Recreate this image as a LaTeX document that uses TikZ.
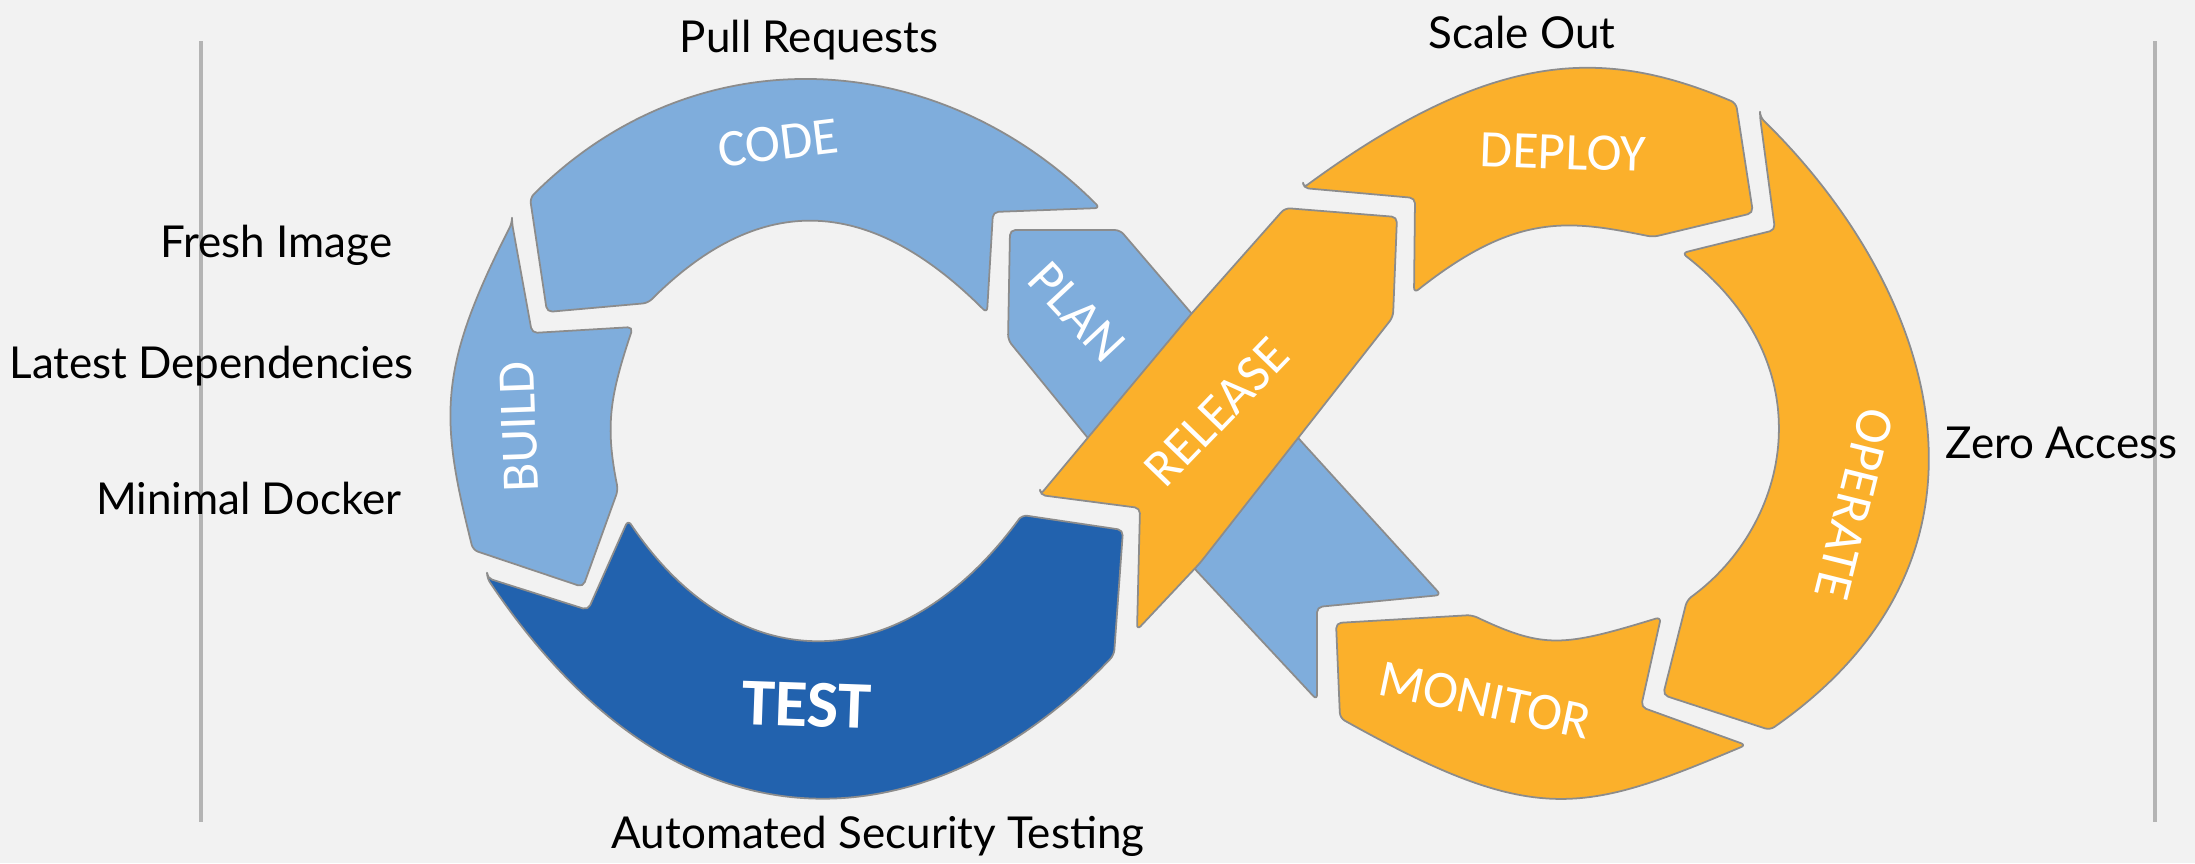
\documentclass[tikz,border=0pt]{standalone}
\usepackage{fontspec}
\setmainfont{Lato}
\newfontfamily\stagefont{Carlito}
\usepackage{tikz}
\definecolor{paper}{HTML}{F2F2F2}
\definecolor{lightblue}{HTML}{7FADDC}
\definecolor{darkblue}{HTML}{2262AE}
\definecolor{amber}{HTML}{FBB02B}
\definecolor{rim}{HTML}{8C8C8C}
\definecolor{rulegray}{HTML}{B4B4B4}
\tikzset{
  stage/.style={draw=rim, line width=0.5pt, line join=round, rounded corners=1.5pt},
  stagetext/.style={text=white, font=\stagefont\fontsize{15}{15}\selectfont, inner sep=0pt},
  sidetext/.style={font=\fontsize{12.5}{14}\selectfont, inner sep=0pt},
}

\begin{document}
\begin{tikzpicture}[x=0.01cm, y=-0.01cm]
\fill[paper] (0,0) rectangle (2195,863);
\useasboundingbox (0,0) rectangle (2195,863);

% side rules
\draw[rulegray, line width=1.2pt] (201,41) -- (201,822);
\draw[rulegray, line width=1.2pt] (2155,41) -- (2155,822);

% left loop
\path[stage, fill=lightblue] (547,312) -- (530,198)
  .. controls (694,34) and (936,44) .. (1100,208)
  -- (993,212) -- (987,313)
  .. controls (872,198) and (763,188) .. (648,303)
  -- cycle; % code
\path[stage, fill=lightblue] (512,223) -- (532,333) -- (633,327)
  .. controls (610,396) and (605,425) .. (618,490)
  -- (583,587) -- (473,550)
  .. controls (440,418) and (437,370) .. (512,223)
  -- cycle; % build
\path[stage, fill=darkblue] (487,578) -- (588,610) -- (628,520)
  .. controls (737,682) and (901,680) .. (1022,515)
  -- (1123,530) -- (1114,655)
  .. controls (951,827) and (696,889) .. (487,578)
  -- cycle; % test

% right loop
\path[stage, fill=amber] (1303,188) -- (1415,198) -- (1414,293)
  .. controls (1516,212) and (1569,220) .. (1653,237)
  -- (1753,213) -- (1736,103)
  .. controls (1608,49) and (1498,45) .. (1303,188)
  -- cycle; % deploy
\path[stage, fill=amber] (1760,117) -- (1775,230) -- (1682,253)
  .. controls (1826,365) and (1791,524) .. (1687,600)
  -- (1663,695) -- (1770,730)
  .. controls (2025,552) and (1933,286) .. (1760,117)
  -- cycle; % operate
\path[stage, fill=amber] (1336,623) -- (1472,615)
  .. controls (1544,649) and (1563,647) .. (1661,617)
  -- (1641,707) -- (1746,745)
  .. controls (1582,814) and (1535,827) .. (1340,718)
  -- cycle; % monitor

% crossing bands, release on top
\path[stage, fill=lightblue] (1010,230) -- (1120,230) -- (1300,440) -- (1441,595)
  -- (1317,607) -- (1317,700) -- (1193,567) -- (1008,340)
  -- cycle; % plan
\path[stage, fill=amber] (1040,495) -- (1140,508) -- (1137,630)
  -- (1200,563) -- (1393,317)
  -- (1397,217) -- (1285,208)
  -- (1192,313) -- (1040,495)
  -- cycle; % release

% stage names
\node[stagetext, rotate=7] (code) at (778,143) {CODE};
\node[stagetext, rotate=92] (build) at (519,427) {BUILD};
\node[stagetext, font=\stagefont\bfseries\fontsize{19}{19}\selectfont, rotate=-2] (test) at (807,705) {TEST};
\node[stagetext, rotate=-47] (plan) at (1077,312) {PLAN};
\node[stagetext, rotate=46] (release) at (1217,412) {RELEASE};
\node[stagetext, rotate=-2] (deploy) at (1563,152) {DEPLOY};
\node[stagetext, rotate=-104] (operate) at (1854,504) {OPERATE};
\node[stagetext, rotate=-12] (monitor) at (1485,700) {MONITOR};

% notes round the loops
\node[sidetext] (pull) at (809,40) {Pull Requests};
\node[sidetext] (scale) at (1522,32) {Scale Out};
\node[sidetext, anchor=east] (fresh) at (393,245) {Fresh Image};
\node[sidetext, anchor=east] (deps) at (414,366) {Latest Dependencies};
\node[sidetext, anchor=east] (docker) at (402,498) {Minimal Docker};
\node[sidetext, anchor=west] (zero) at (1945,443) {Zero Access};
\node[sidetext] (auto) at (878,836) {Automated Security Testing};
\end{tikzpicture}
\end{document}
